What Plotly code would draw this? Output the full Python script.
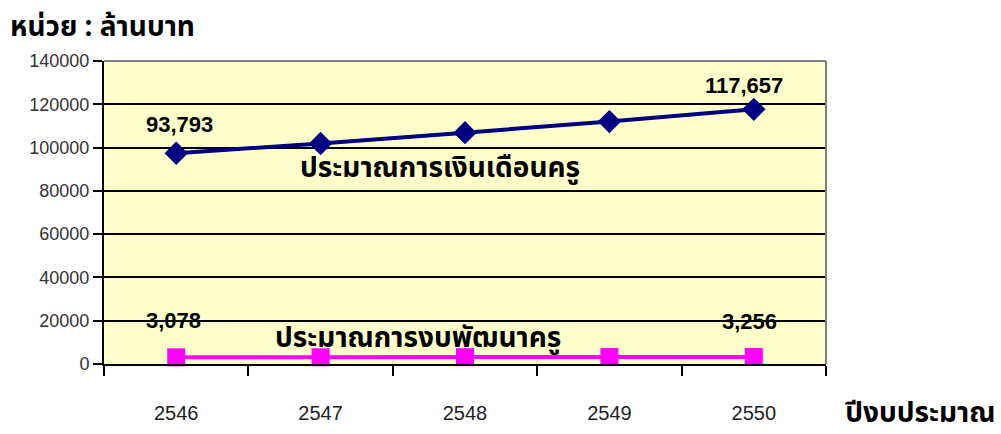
import plotly.graph_objects as go

years = ["2546", "2547", "2548", "2549", "2550"]
salary = [97400, 101900, 106900, 112000, 117657]
develop = [3078, 3120, 3170, 3210, 3256]
salary_labels = ["93,793", "", "", "", "117,657"]
develop_labels = ["3,078", "", "", "", "3,256"]
salary_name = "ประมาณการเงินเดือนครู"
develop_name = "ประมาณการงบพัฒนาครู"
unit_title = "หน่วย : ล้านบาท"
x_title = "ปีงบประมาณ"

thai_font = "Noto Sans Thai, Noto Sans, DejaVu Sans, sans-serif"
num_font = "Arial, Liberation Sans, sans-serif"

L, R, T, B = 104, 175, 61, 70
W, H = 1001, 434
PW, PH = W - L - R, H - T - B


def px(x):
    return (x - L) / PW


def py(y):
    return (H - B - y) / PH


fig = go.Figure()
fig.add_trace(go.Scatter(
    x=years, y=salary, mode="lines+markers",
    line=dict(color="#000080", width=4),
    marker=dict(symbol="diamond", size=18, color="#000080"),
    showlegend=False, cliponaxis=False, hoverinfo="x+y",
))
fig.add_trace(go.Scatter(
    x=years, y=develop, mode="lines+markers",
    line=dict(color="#FF00FF", width=4),
    marker=dict(symbol="square", size=18, color="#FF00FF"),
    showlegend=False, cliponaxis=False, hoverinfo="x+y",
))

annotations = []
for i, t in enumerate(salary_labels):
    if t:
        annotations.append(dict(x=i, y=salary[i], xref="x", yref="y", text="<b>%s</b>" % t,
                                showarrow=False,
                                yshift=29 if i == 0 else 24, xshift=3 if i == 0 else -10,
                                font=dict(family=num_font, size=22, color="black")))
for i, t in enumerate(develop_labels):
    if t:
        annotations.append(dict(x=i, y=develop[i], xref="x", yref="y", text="<b>%s</b>" % t,
                                showarrow=False,
                                yshift=37 if i == 0 else 35, xshift=-3 if i == 0 else -4,
                                font=dict(family=num_font, size=22, color="black")))

annotations += [
    dict(xref="paper", yref="paper", x=px(440), y=py(168), xanchor="center", yanchor="middle",
         text="<b>%s</b>" % salary_name, showarrow=False,
         font=dict(family=thai_font, size=28, color="black")),
    dict(xref="paper", yref="paper", x=px(418), y=py(338), xanchor="center", yanchor="middle",
         text="<b>%s</b>" % develop_name, showarrow=False,
         font=dict(family=thai_font, size=28, color="black")),
    dict(xref="paper", yref="paper", x=px(8), y=py(28), xanchor="left", yanchor="middle",
         text="<b>%s</b>" % unit_title, showarrow=False,
         font=dict(family=thai_font, size=28, color="black")),
    dict(xref="paper", yref="paper", x=px(998), y=py(413), xanchor="right", yanchor="middle",
         text="<b>%s</b>" % x_title, showarrow=False,
         font=dict(family=thai_font, size=28, color="black")),
]

fig.update_layout(
    width=W, height=H,
    margin=dict(l=L, r=R, t=T, b=B, autoexpand=False),
    paper_bgcolor="white", plot_bgcolor="#FFFFCC",
    xaxis=dict(type="category", tickson="boundaries", ticks="outside", ticklen=10,
               tickwidth=2, tickcolor="black", showline=True, linecolor="black", linewidth=2,
               showgrid=False, ticklabelstandoff=30, automargin=False,
               tickfont=dict(family="Liberation Sans Narrow, Arial Narrow, Liberation Sans", size=20, color="#222"),
               range=[-0.5, 4.5]),
    yaxis=dict(range=[0, 140000], dtick=20000, tickformat="d", ticks="outside", ticklen=9,
               tickwidth=2, tickcolor="black", showline=True, linecolor="black", linewidth=2,
               showgrid=True, gridcolor="black", gridwidth=2, zeroline=False, automargin=False,
               tickfont=dict(family="Liberation Sans, Arial, sans-serif", size=18, color="#333")),
    shapes=[
        dict(type="line", xref="paper", yref="paper", x0=0, x1=1, y0=1, y1=1,
             line=dict(color="#808080", width=2)),
        dict(type="line", xref="paper", yref="paper", x0=1, x1=1, y0=0, y1=1,
             line=dict(color="#808080", width=2)),
    ],
    annotations=annotations,
)

fig.write_html("out.html", config={"displayModeBar": False},
               post_script="document.body.style.margin='0';")
